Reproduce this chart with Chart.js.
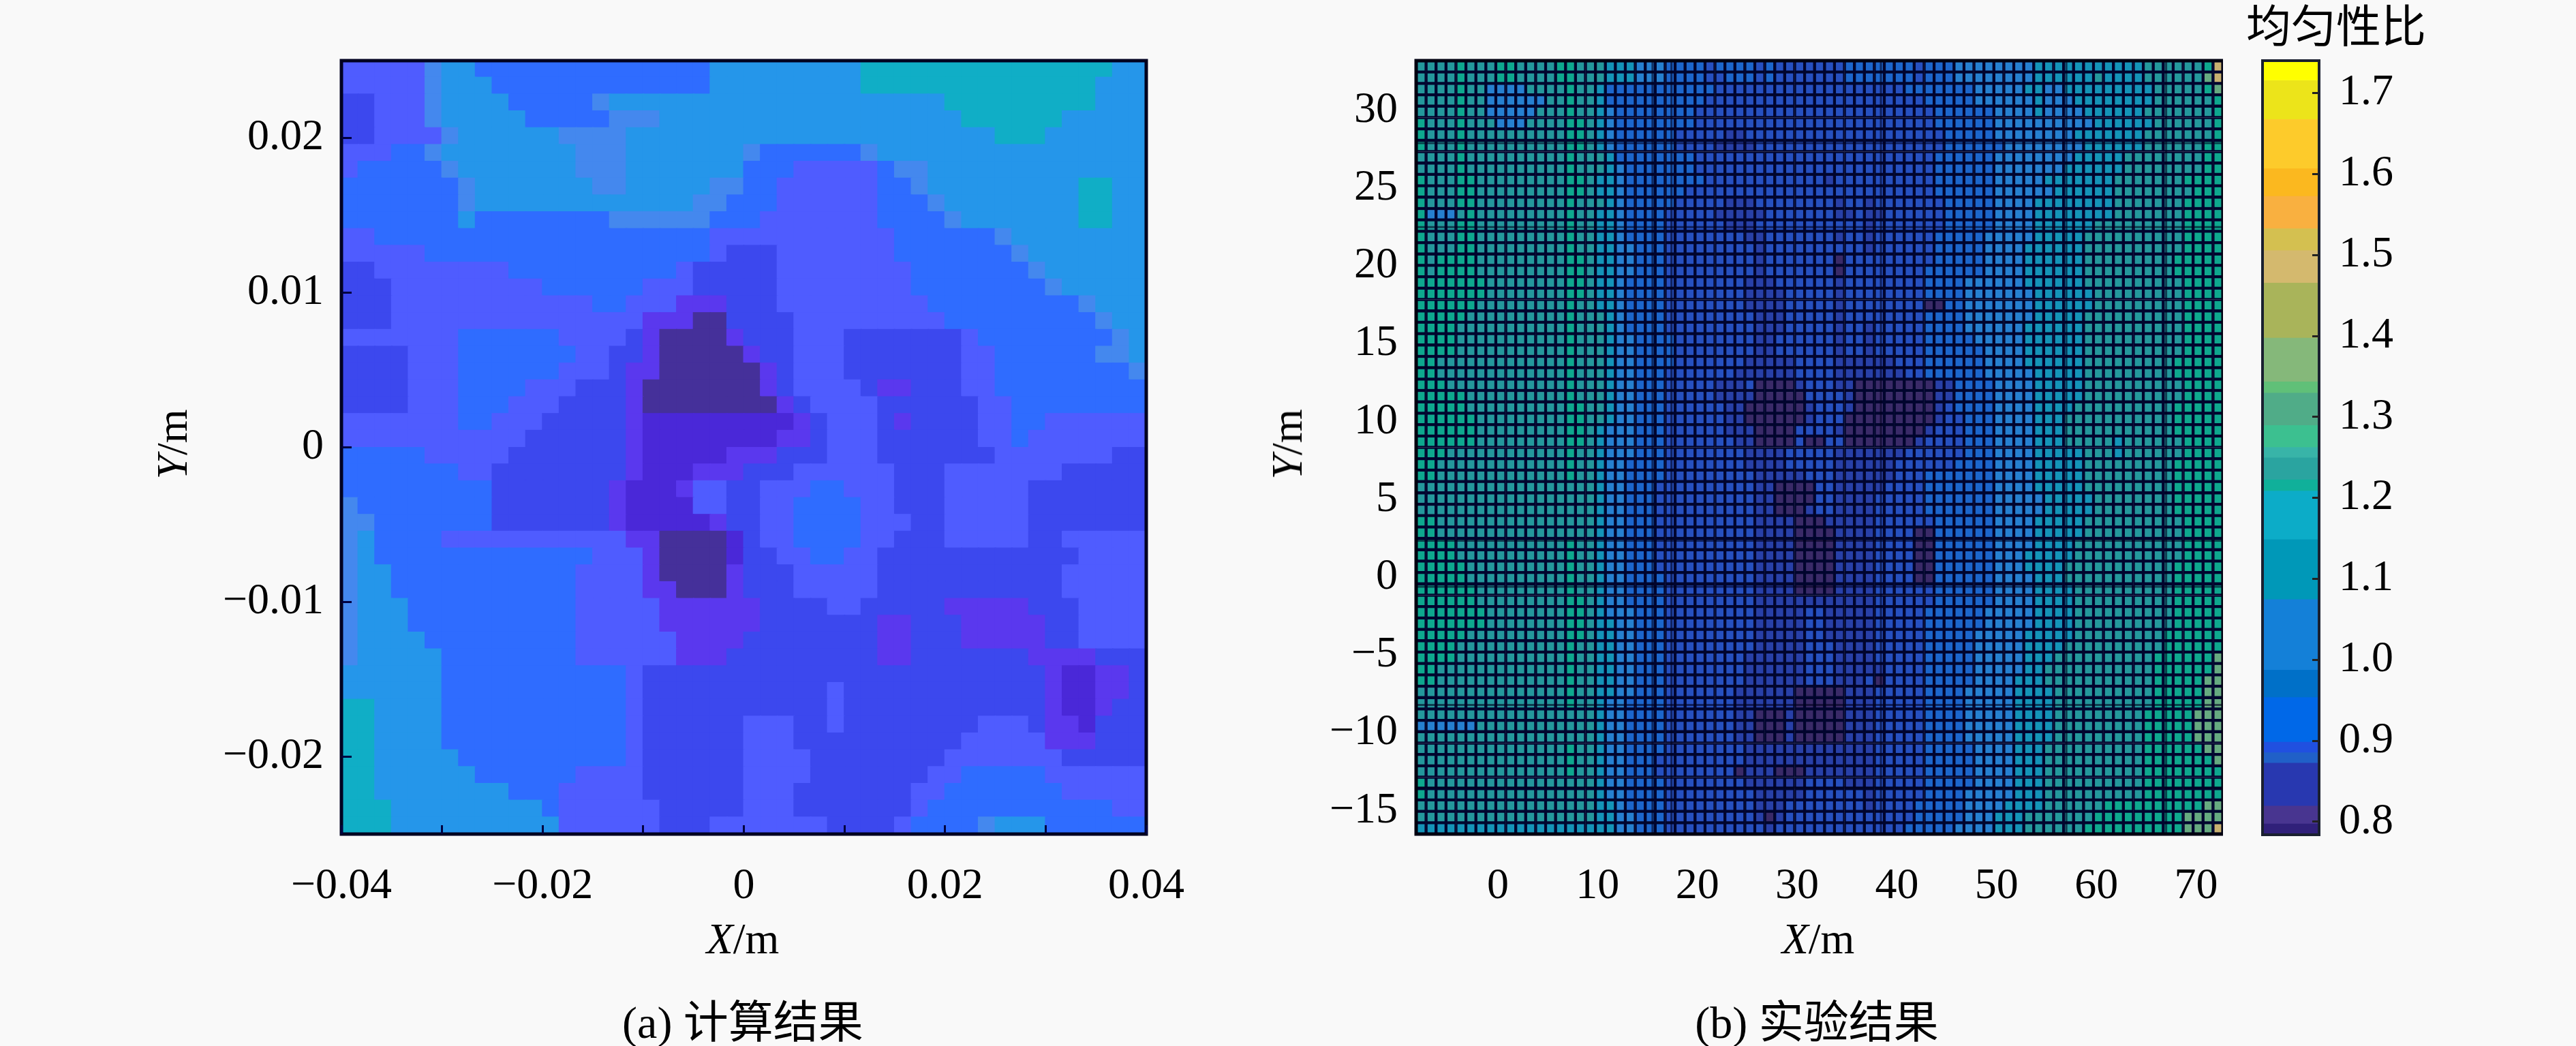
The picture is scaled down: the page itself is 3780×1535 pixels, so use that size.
<!DOCTYPE html>
<html>
<head>
<meta charset="utf-8">
<script src="https://cdn.jsdelivr.net/npm/chart.js@4"></script>
<style>
  html, body { margin: 0; background: #f9f9f9; }
  body { width: 3780px; height: 1535px; position: relative; overflow: hidden; }
  canvas { position: absolute; }
  .lbl { position: absolute; transform: translate(-50%, -50%); white-space: nowrap; color: #000;
         font: 64px "Liberation Serif", "Noto Sans CJK SC", serif; }
  .cap { font-size: 66px; }
</style>
</head>
<body>
<canvas id="calc" width="1482" height="1280" style="left:300px;top:60px"></canvas>
<canvas id="expt" width="1362" height="1280" style="left:1900px;top:60px"></canvas>
<canvas id="bar" width="400" height="1180" style="left:3300px;top:60px"></canvas>
<div class="lbl" style="left:1090px;top:1378px"><i>X</i>/m</div>
<div class="lbl cap" style="left:1090px;top:1494px">(a) 计算结果</div>
<div class="lbl" style="left:253px;top:652px;transform:translate(-50%,-50%) rotate(-90deg)"><i>Y</i>/m</div>
<div class="lbl" style="left:2668px;top:1378px"><i>X</i>/m</div>
<div class="lbl cap" style="left:2666px;top:1494px">(b) 实验结果</div>
<div class="lbl" style="left:1889px;top:652px;transform:translate(-50%,-50%) rotate(-90deg)"><i>Y</i>/m</div>
<div class="lbl cap" style="left:3428px;top:33px">均匀性比</div>
<script>
// left panel: colour level per cell, top row first
const calcColors = ['#45309a', '#4a28d8', '#5a38ee', '#3c48ee', '#4f5cff', '#2f6cff', '#4488ee', '#2596ea', '#10aec6'];
const calcRows = [
  '44444677 55555555 55555577 77777778 88888888 88888877',
  '44444677 75555555 55555577 77777778 88888888 88888777',
  '33444677 77555556 77777777 77777777 77778888 88888777',
  '33444677 77755555 66677777 77777777 77777888 88877777',
  '33444467 77777666 67777777 77777777 77777778 88777777',
  '44455677 77777766 67777777 65555556 77777777 77777777',
  '45555567 77777766 67777777 55544444 56677777 77777777',
  '55555556 77777776 67777766 55444444 55677777 77778877',
  '55555556 77777777 77777665 55444444 55567777 77778877',
  '55555557 55555555 66666655 54444444 55556777 77778877',
  '44555555 55555555 55555544 44444444 45555556 77777777',
  '44444555 55555555 55555543 33444444 45555555 67777777',
  '33444444 44555555 55554333 33444444 44555555 56777777',
  '33344444 44445555 55444333 33444444 44555555 55677777',
  '33344444 44444445 54442223 33444444 44455555 55556777',
  '33344444 44444444 44222003 33344444 44445555 55555677',
  '44444445 55555444 43200002 33344433 33333455 55555567',
  '33334445 55555544 33200000 23344433 33333445 55555667',
  '33334445 55555444 32200000 02344433 33333445 55555556',
  '33334445 55544433 32000000 02344443 22333445 55555555',
  '33334445 55444333 32000000 00234444 33333344 55555555',
  '44444445 54443333 32111111 11123444 32333344 55444444',
  '44444444 44433333 32111111 11223444 33333344 54444444',
  '55555444 44333333 32111112 22333444 33333334 44444433',
  '55555554 43333333 32111222 33344444 43334444 44433333',
  '55555555 53333333 21112443 34445544 43334444 43333333',
  '65555555 53333333 21111443 34455554 43334444 43333333',
  '66555555 53333333 21111123 34455554 44334444 43333333',
  '67555544 44444444 42200001 34455554 43334444 43344444',
  '67555555 55555554 44200001 33445544 33333333 33334444',
  '67755555 55555544 44200002 33344444 33333333 33344444',
  '67755555 55555544 44220002 33344444 33333333 33344444',
  '67775555 55555544 44422222 23333443 33332222 23334444',
  '67775555 55555544 44422222 23333333 22333222 22334444',
  '67777555 55555544 44442222 33333333 22333222 22334444',
  '67777755 55555544 44442223 33333333 22333333 32222333',
  '77777755 55555555 54333333 33333333 33333333 33211223',
  '77777755 55555555 54333333 33333433 33333333 33211223',
  '88777755 55555555 54333333 33333433 33333333 33211233',
  '88777755 55555555 54333333 44433433 33333344 43221333',
  '88777755 55555555 54333333 44433333 33333444 44222333',
  '88777775 55555555 54333333 44443333 33334444 44433333',
  '88777777 55555544 44333333 44443333 33344555 55444444',
  '88777777 77555444 44333333 44433333 33445555 55544444',
  '88877777 77775444 44433333 44433333 33455555 55555544',
  '88877777 77777444 44433344 44444333 34555567 77555555'
].map(r => r.replace(/ /g, ''));
const calcX = [-0.04, 0.04];
const calcY = [-0.025, 0.025];
const calcXTicks = [-0.04, -0.03, -0.02, -0.01, 0, 0.01, 0.02, 0.03, 0.04];
const calcYTicks = [-0.02, -0.01, 0, 0.01, 0.02];

// right panel: colour level per cell, top row first
const exptColors = ['#3a2a68', '#2840a8', '#2650c0', '#1c66cc', '#2680d0', '#1494b8', '#24989c', '#0ea88e', '#66aa80', '#c8b070'];
const exptRows = [
  '666676667 766667766 655544433 332333323 222222233 333332333 444444445 555555555 566666679',
  '666676667 766667766 655544433 332233323 222222233 333332333 444444445 555556555 566666689',
  '666676644 446666766 533333333 333222222 222222222 222233333 334444455 445555555 556666678',
  '666676644 444466766 533333333 332222222 222222222 222222333 334444445 444555555 556666667',
  '666676644 444666766 543333333 322222222 222222222 222222233 333344445 444455555 566666667',
  '766676664 446666776 543333333 322222222 222222222 222222233 333344444 444445555 556666667',
  '766676666 666666776 543333332 222211222 222222222 222222223 333344444 444555555 566666667',
  '766676666 666666776 543333332 222111122 222222222 222222223 333334444 444455555 566666677',
  '666676666 666666766 653333333 322222222 222222222 222222233 333344444 444555556 666666677',
  '666676666 666666766 654333333 322222222 222222222 222222233 333344444 445555556 666666677',
  '766677666 666666776 554333333 332222222 222221222 222222233 333344444 555555566 666667777',
  '766677666 666666776 554333333 222222222 222222222 222222233 333344444 455555566 666666777',
  '766677666 666666766 654333332 222211122 222222122 122222223 333344445 555555566 666667777',
  '744467666 666666766 554333322 222111112 222222112 112222223 333344445 555555566 666667777',
  '766677666 666666766 554333322 222211122 222222222 122222223 333344445 555556666 666667777',
  '766677666 666666766 554333322 222222112 222222122 122222233 333444445 555566666 666667777',
  '766677666 666666766 554433322 222222212 222222222 122222233 333444455 555566666 666667777',
  '767777666 666666776 554433322 222222212 222222022 222222233 333444455 555566666 666677777',
  '767777666 666666776 554433322 222222212 222222022 222222333 333444455 555566666 666677777',
  '777777766 666666776 554333322 222222111 222222122 222222333 344444455 555566666 666667777',
  '777777766 666666776 554333322 222222111 122222122 222222333 344444445 555556666 666667777',
  '777777666 666666766 554333322 222222111 122222122 222222003 344444445 555556666 666667777',
  '777776666 666666766 654333322 222222211 122222122 222222333 344444445 555566666 666667777',
  '777766666 666666766 654333322 222222211 122222122 122222333 344444455 555566666 666667777',
  '777766666 666666766 654433332 222222211 222222122 122222333 334444455 555566666 666667777',
  '777766666 666666766 654433332 222222211 222222122 122222333 333444455 555566666 666667777',
  '776666666 666666766 654433332 222222111 112222111 111222333 333444455 555566666 666677777',
  '776666666 666666766 654433322 222221111 112222111 111122333 333444445 555566666 666677777',
  '777666666 666666766 654433322 222111200 001222110 000000011 333344445 555566666 666667777',
  '777776666 666666766 654433322 222111100 000222210 000000011 333344445 555566666 666667777',
  '777776666 666666776 654433322 222211000 000122210 000000012 333344445 555666666 666677777',
  '777777666 666666776 654433322 222211000 000122200 000000012 233344445 556666666 666677777',
  '777777666 666666776 544433322 222211100 002222100 000000122 233344445 556666666 666677777',
  '777777666 666666776 544433322 222221100 002002200 000001222 233344445 556666656 666667777',
  '777666666 666666766 544433322 222222111 122222111 111122222 233344445 555566656 666667777',
  '776666666 666666766 544333322 222222111 122222111 111222222 333344445 555566666 666677777',
  '776666666 666666766 544333322 222222211 111222111 111222333 333344445 555566666 666677777',
  '666666666 666666666 544333222 222222211 000022111 112222333 333344445 555566666 666677777',
  '666666666 666666666 544333222 222222211 000022111 122222333 333344444 555556666 666677777',
  '666666666 666666666 544333222 222222211 000122111 122222333 333344444 555556666 666677777',
  '776666666 666666666 544333222 222222211 110001111 122222233 333344445 555566666 666667777',
  '776666666 666666666 544333222 222222211 110000111 122220033 333344445 555566666 666667777',
  '777766666 666666766 544333222 222222211 110000111 122220033 333344445 555666666 666667777',
  '777766666 666666766 544333222 222222211 110000111 122220033 333344455 555666666 666667777',
  '777776666 666666766 544333222 222222211 110000111 122220033 333344455 556666666 666677777',
  '777776666 666666766 544333322 222222211 110000111 122220033 333344445 556666666 666677777',
  '777777666 666666766 544333322 222222211 110000111 122222233 333344445 555666666 666677777',
  '777777666 666666776 544333322 222222211 111111111 122222233 333344445 555666666 666677777',
  '777777766 666666776 544433322 222222211 111221111 122222333 333444445 555666666 666677777',
  '777777766 666666776 554433322 222222211 111221111 122222333 333444445 555666666 666677777',
  '777776666 666666776 554433322 222222211 111221111 122222333 334444455 555666666 666777777',
  '777766666 666666766 554433322 222222211 111222111 122222333 334444455 556666666 666777777',
  '777766666 666666766 554433322 222222111 111222111 122222333 334444455 566666666 667777778',
  '776666666 666666766 554433322 222222111 111222111 112222333 334444455 666666666 667777778',
  '776666666 666666766 554433322 222222111 111222111 202222333 334444555 666666666 667777788',
  '666666666 666666766 554433322 222221111 110000011 122222333 344444555 566666666 667777788',
  '666666666 666666766 544333322 222221111 110000011 122222333 344444555 566666666 667777788',
  '666666666 666666666 544333322 222221100 010000011 122222333 344444555 566666666 677777888',
  '444444666 666666666 544333322 222221100 010000011 122222333 344444555 566666666 677777888',
  '666666666 666666666 544333322 222221100 010000011 122222333 344444555 566666666 677777888',
  '666666666 666666766 544333322 222222111 111111111 122222333 334444555 666666666 677777788',
  '666666666 666666766 544333222 222222111 111111111 122222333 334444555 666666666 677777778',
  '666666666 666666766 544333222 222220111 000111111 122222333 334444555 666666666 677777777',
  '766666666 666666666 544333322 222222111 111222211 122222333 334444555 666666666 677777777',
  '766666666 666666666 544333322 222222211 111222222 122222333 344444555 666666666 677777777',
  '666666666 666666666 554333322 222222211 122222222 122223333 344445555 666666777 777777788',
  '666666666 666666666 554433322 222222210 122222222 222223333 344455566 666667777 777778888',
  '555555555 555555555 554433322 222222221 222222222 222233333 444455566 666677777 777778889'
].map(r => r.replace(/ /g, ''));
const exptX = [-8.2, 72.7];
const exptY = [-16.5, 33.2];
const exptXTicks = [0, 10, 20, 30, 40, 50, 60, 70];
const exptYTicks = [-15, -10, -5, 0, 5, 10, 15, 20, 25, 30];
// rows and columns where the mesh lines look darker in the picture
const heavyX = [9.8, 15.5, 17.4, 38.4, 57, 67];
const heavyY = [27.9, 22.5, 13.5, 2.35, -0.6, -8.2, -13.5];

// colour bar: band edges from top to bottom and the colour between them
const barEdges = [1.74, 1.716, 1.668, 1.607, 1.573, 1.533, 1.506, 1.466, 1.398, 1.344, 1.33, 1.29, 1.263, 1.25, 1.223, 1.209, 1.149, 1.075, 0.988, 0.954, 0.899, 0.886, 0.873, 0.82, 0.798, 0.784];
const barColors = ['#ffff00', '#ece41a', '#fdcb2b', '#fbb81f', '#f9b040', '#d4c050', '#d4b96e', '#a9b45a', '#85b87a', '#60c078', '#50ac88', '#3cc090', '#38b4a8', '#2aa4a0', '#10b09a', '#0cacc8', '#0098b8', '#1480d8', '#0070c8', '#0068e8', '#2050e0', '#2060c8', '#2838b0', '#483590', '#30207a'];
const barTicks = [0.8, 0.9, 1.0, 1.1, 1.2, 1.3, 1.4, 1.5, 1.6, 1.7];

const tickFont = { family: '"Liberation Serif", serif', size: 64 };

function cells(rows, xr, yr) {
  const dy = (yr[1] - yr[0]) / rows.length;
  const dx = (xr[1] - xr[0]) / rows[0].length;
  const out = [];
  rows.forEach((row, r) => {
    const top = yr[1] - r * dy;
    for (let c = 0; c < row.length; c++) {
      out.push({ x: xr[0] + (c + 0.5) * dx, y: [top - dy, top], lvl: +row[c] });
    }
  });
  return out;
}

function minusLabel(text) {
  return text.replace('-', '\u2212');
}

// fixed tick list and fixed axis size, without the label overflow padding
function fixTicks(list) {
  return s => { s.ticks = list.map(value => ({ value })); };
}
function fixSize(prop, size) {
  return s => {
    s[prop] = size;
    s.paddingTop = s.paddingBottom = s.paddingLeft = s.paddingRight = 0;
  };
}

const framePlugin = {
  id: 'frame',
  afterDatasetsDraw(chart, args, opts) {
    const a = chart.chartArea, ctx = chart.ctx;
    ctx.save();
    ctx.strokeStyle = opts.color;
    ctx.lineWidth = opts.width;
    ctx.strokeRect(a.left, a.top, a.right - a.left, a.bottom - a.top);
    ctx.restore();
  }
};
Chart.register(framePlugin);

const noAnim = { animation: false, responsive: false, devicePixelRatio: 1 };
const noLegend = { legend: { display: false }, tooltip: { enabled: false } };

// (a) calculation result
new Chart(document.getElementById('calc'), {
  type: 'bar',
  data: {
    datasets: [{
      data: cells(calcRows, calcX, calcY),
      backgroundColor: ctx => calcColors[ctx.raw ? ctx.raw.lvl : 0],
      barPercentage: 1, categoryPercentage: 1, borderWidth: 0, inflateAmount: 1
    }]
  },
  options: {
    ...noAnim,
    layout: { autoPadding: false, padding: { left: 0, right: 100, top: 29, bottom: 0 } },
    plugins: { ...noLegend, frame: { color: '#000020', width: 5 } },
    scales: {
      x: {
        type: 'linear', min: calcX[0], max: calcX[1], offset: false,
        afterBuildTicks: fixTicks(calcXTicks),
        afterFit: fixSize('height', 116),
        grid: { offset: false, drawOnChartArea: false, tickLength: -13, tickWidth: 3, tickColor: '#000040', z: 1 },
        border: { display: false },
        ticks: {
          autoSkip: false, maxRotation: 0, padding: 52, font: tickFont, color: '#000',
          callback: v => {
            const n = Math.round(v * 100);
            if (n % 2) return '';
            return n === 0 ? '0' : minusLabel(v.toFixed(2));
          }
        }
      },
      y: {
        min: calcY[0], max: calcY[1],
        afterBuildTicks: fixTicks(calcYTicks),
        afterFit: fixSize('width', 201),
        grid: { drawOnChartArea: false, tickLength: -15, tickWidth: 3, tickColor: '#000040', z: 1 },
        border: { display: false },
        ticks: {
          autoSkip: false, padding: 41, font: tickFont, color: '#000',
          callback: v => v === 0 ? '0' : minusLabel(v.toFixed(2))
        }
      }
    }
  }
});

// (b) experiment result
const heavyDatasets = [
  ...heavyX.map(x => ({ type: 'line', data: [{ x, y: exptY[0] }, { x, y: exptY[1] }] })),
  ...heavyY.map(y => ({ type: 'line', data: [{ x: exptX[0], y }, { x: exptX[1], y }] }))
].map(d => ({ ...d, borderColor: 'rgba(0,0,30,0.6)', borderWidth: 3, pointRadius: 0, order: -1 }));

new Chart(document.getElementById('expt'), {
  type: 'bar',
  data: {
    datasets: [{
      data: cells(exptRows, exptX, exptY),
      backgroundColor: ctx => exptColors[ctx.raw ? ctx.raw.lvl : 0],
      borderColor: '#00052e', borderWidth: 2.5, borderSkipped: false,
      barPercentage: 1, categoryPercentage: 1
    }, ...heavyDatasets]
  },
  options: {
    ...noAnim,
    layout: { autoPadding: false, padding: { left: 0, right: 0, top: 29, bottom: 0 } },
    plugins: { ...noLegend, frame: { color: '#000010', width: 5 } },
    scales: {
      x: {
        type: 'linear', min: exptX[0], max: exptX[1], offset: false,
        afterBuildTicks: fixTicks(exptXTicks),
        afterFit: fixSize('height', 116),
        grid: { offset: false, display: false, drawTicks: false },
        border: { display: false },
        ticks: { autoSkip: false, maxRotation: 0, padding: 39, font: tickFont, color: '#000',
          callback: v => minusLabel(String(v)) }
      },
      y: {
        min: exptY[0], max: exptY[1],
        afterBuildTicks: fixTicks(exptYTicks),
        afterFit: fixSize('width', 178),
        grid: { display: false, drawTicks: false },
        border: { display: false },
        ticks: { autoSkip: false, padding: 27, font: tickFont, color: '#000',
          callback: v => minusLabel(String(v)) }
      }
    }
  }
});

// colour bar
new Chart(document.getElementById('bar'), {
  type: 'bar',
  data: {
    labels: [''],
    datasets: barColors.map((c, i) => ({
      data: [[barEdges[i + 1], barEdges[i]]],
      backgroundColor: c, grouped: false, barPercentage: 1, categoryPercentage: 1, borderWidth: 0
    }))
  },
  options: {
    ...noAnim,
    layout: { autoPadding: false, padding: { left: 20, right: 0, top: 29, bottom: 15 } },
    plugins: { ...noLegend, frame: { color: '#1a2030', width: 4 } },
    scales: {
      x: { display: false },
      y: {
        position: 'right', min: barEdges[barEdges.length - 1], max: barEdges[0],
        afterBuildTicks: fixTicks(barTicks),
        afterFit: fixSize('width', 297),
        grid: { drawOnChartArea: false, tickLength: -10, tickWidth: 3, tickColor: '#222', z: 1 },
        border: { display: false },
        ticks: { autoSkip: false, padding: 39, font: tickFont, color: '#000',
          callback: v => v.toFixed(1) }
      }
    }
  }
});
</script>
</body>
</html>
